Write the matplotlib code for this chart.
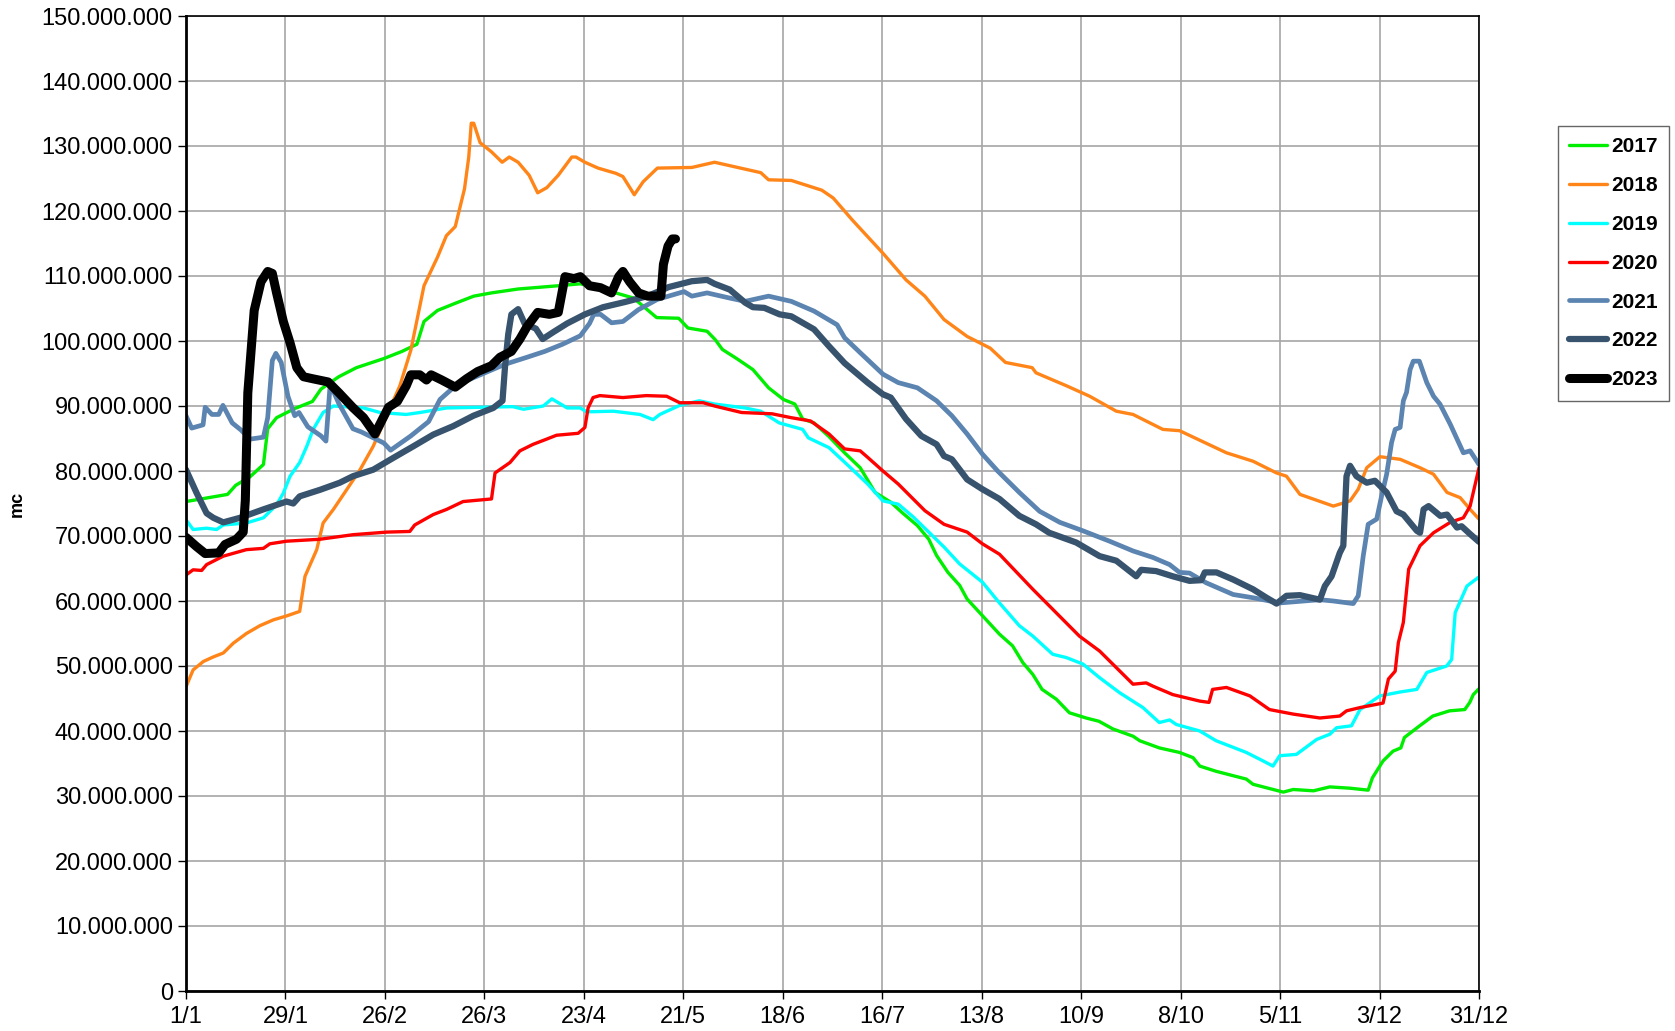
import numpy as np
import matplotlib
matplotlib.use("Agg")
import matplotlib.pyplot as plt
from matplotlib.ticker import FuncFormatter, MultipleLocator

# values: day of year (0 = 1/1) and volume in millions of mc
d2017 = [0, 11.7, 14, 18, 21.8, 23, 25.5, 30.6, 35.6, 38, 43, 48, 55.7, 60.8, 65, 67, 70.8, 75.8, 81, 86,
         93.5, 104.8, 111, 121, 126, 132.5, 138.7, 141.3, 146.7, 149, 151, 155.3, 159.6, 164, 168.2, 171.4,
         173.6, 176.8, 181, 185.4, 189.8, 194, 198.4, 201.6, 205.9, 209.1, 211.3, 214.5, 217.8, 219.9, 229,
         232.7, 235.6, 238.4, 241, 245, 248.7, 253.4, 257, 261, 266.6, 268.5, 274, 279.7, 283.5, 285.4, 290,
         298.5, 300.4, 308.9, 311.7, 317.4, 322, 327.7, 332.8, 334, 337, 339.8, 342, 343, 347.3, 351, 355.7,
         360, 361.4, 362.4, 364]
v2017 = [75.3, 76.4, 77.8, 79.1, 81, 86.5, 88.2, 89.6, 90.7, 92.6, 94.5, 95.9, 97.3, 98.4, 99.5, 103, 104.7,
         105.8, 106.9, 107.4, 108, 108.5, 108.8, 107.4, 106.6, 103.6, 103.5, 102, 101.5, 100.2, 98.7, 97.2, 95.6,
         92.8, 91, 90.3, 88, 87.4, 85.3, 82.8, 80.5, 76.7, 75.2, 73.6, 71.6, 69.5, 67, 64.4, 62.4, 60.3, 54.9,
         53.1, 50.5, 48.7, 46.4, 44.9, 42.8, 42, 41.5, 40.3, 39.2, 38.5, 37.4, 36.7, 35.9, 34.6, 33.8, 32.6, 31.8,
         30.6, 31, 30.8, 31.4, 31.2, 30.9, 32.8, 35.4, 36.9, 37.4, 39, 40.8, 42.3, 43.1, 43.3, 44.4, 45.6, 46.5]

d2018 = [0, 2, 4.9, 7.7, 10.5, 13.3, 17, 20.8, 24.6, 28.3, 32, 33.5, 36.8, 38.6, 41.5, 45.2, 49, 52.7, 56.5,
         60.2, 63.3, 67, 70.8, 73.3, 75.8, 78.4, 79.6, 80.3, 81, 82.8, 86, 89, 91, 93.5, 96.6, 99, 101.6, 104.8,
         108.6, 109.8, 112.3, 116, 121, 123, 126.2, 128.7, 132.7, 142.4, 148.8, 155.3, 161.8, 164, 170.4, 179,
         182.2, 187.6, 196.2, 202.7, 208, 213.4, 219.9, 226.4, 230.7, 238.2, 239.3, 247.9, 254.4, 261.9, 266.6,
         275, 279.7, 292.9, 300.4, 307, 309.8, 313.6, 323, 327.7, 330, 332.4, 336.1, 341.8, 347.4, 351.2, 355,
         358.7, 361.5, 364]
v2018 = [46.8, 49.4, 50.7, 51.4, 52, 53.5, 55, 56.2, 57.1, 57.7, 58.4, 63.8, 67.9, 72, 74.1, 77.1, 80.2, 83.8,
         88.5, 93.1, 98.6, 108.5, 112.9, 116.2, 117.6, 123.4, 128.3, 133.5, 133.5, 130.5, 129.1, 127.5, 128.3,
         127.5, 125.5, 122.8, 123.6, 125.5, 128.3, 128.3, 127.5, 126.6, 125.8, 125.3, 122.5, 124.5, 126.6, 126.7,
         127.5, 126.7, 125.9, 124.8, 124.7, 123.2, 122, 118.6, 113.5, 109.4, 106.9, 103.3, 100.7, 98.9, 96.7, 95.9,
         95.1, 93.1, 91.5, 89.2, 88.7, 86.4, 86.2, 82.8, 81.5, 79.7, 79.2, 76.4, 74.6, 75.4, 77.2, 80.5, 82.2,
         81.8, 80.5, 79.5, 76.7, 75.9, 74.1, 72.6]

d2019 = [0, 2, 5.8, 8.6, 10.5, 17, 21.8, 25.5, 27.4, 29.3, 32, 34, 35.8, 38.6, 41.5, 50, 54.6, 62, 65.9, 73.4,
         92, 95, 100.6, 103, 107.3, 111, 112.8, 120.3, 127.8, 131.5, 133.4, 139, 144.5, 148.8, 157.4, 161.8, 167,
         173.6, 175.2, 181, 186.5, 191.9, 196.2, 200.5, 204.8, 209.1, 213.4, 217.8, 224.2, 229, 234.6, 238.4,
         244, 247.8, 252.5, 257.2, 262.8, 269.4, 274, 276.9, 278.8, 285.4, 290, 298.5, 303.2, 306, 307.9, 312.6,
         318.3, 322, 323.9, 328.1, 330.5, 336.1, 341.8, 346.5, 349.3, 354.9, 356.3, 357.3, 360.6, 364]
v2019 = [72.5, 71, 71.2, 71, 71.7, 72, 72.8, 74.8, 76.6, 79.2, 81.3, 83.8, 86.4, 89, 90, 89.7, 89, 88.7, 89,
         89.7, 89.9, 89.5, 90, 91.1, 89.7, 89.7, 89.1, 89.2, 88.7, 87.9, 88.7, 90.1, 90.8, 90.3, 89.7, 89.2, 87.4,
         86.4, 85.1, 83.6, 80.8, 78, 75.4, 74.9, 72.9, 70.6, 68.3, 65.7, 62.9, 59.7, 56.2, 54.6, 51.8, 51.3, 50.3,
         48.2, 45.9, 43.6, 41.3, 41.7, 41, 40, 38.5, 36.7, 35.4, 34.6, 36.2, 36.4, 38.7, 39.5, 40.5, 40.8, 43.3,
         45.4, 46, 46.4, 49, 50, 51, 58.2, 62.3, 63.7]

d2020 = [0, 2, 4.4, 5.8, 10.5, 17, 21.8, 23.6, 28.3, 37.7, 47, 56.5, 63, 64.4, 69.6, 73.4, 78, 86, 87, 91.2,
         94, 97.7, 101.5, 104.3, 110.4, 112.3, 113.2, 114.6, 116.5, 123, 129.6, 135.3, 139, 145.6, 148.8, 156.4,
         165, 170.4, 175.8, 181, 185.4, 189.8, 191.9, 196.2, 200.5, 208, 213.4, 219.9, 224.2, 229, 238.4, 251.5,
         257.2, 266.6, 270.3, 272.2, 277.8, 285.4, 288, 289, 292.9, 299.5, 305, 311.7, 319.2, 324.8, 326.7,
         330.5, 337, 338.5, 340.4, 341.3, 342.7, 344.2, 347.4, 351.2, 355.9, 359.6, 361.5, 364]
v2020 = [64, 64.8, 64.7, 65.6, 66.9, 67.9, 68.1, 68.8, 69.2, 69.5, 70.2, 70.6, 70.7, 71.7, 73.3, 74.1, 75.3,
         75.7, 79.7, 81.3, 83.1, 84.1, 84.9, 85.5, 85.8, 86.7, 89.7, 91.3, 91.6, 91.3, 91.6, 91.5, 90.5, 90.5, 90,
         89, 88.8, 88.2, 87.7, 85.7, 83.4, 83.1, 82.1, 80, 78, 73.9, 71.8, 70.6, 68.8, 67.2, 61.8, 54.6, 52.3,
         47.2, 47.4, 46.9, 45.6, 44.6, 44.4, 46.4, 46.7, 45.4, 43.3, 42.6, 42, 42.3, 43.1, 43.6, 44.3, 48, 49.2,
         53.6, 56.7, 64.9, 68.5, 70.5, 72.1, 72.8, 74.6, 80.5]

d2021 = [0, 1.6, 4.8, 5.4, 7.3, 9.2, 10.4, 13, 15.5, 18, 21.8, 23, 24.3, 25.3, 26.8, 28.7, 30.6, 31.8, 34.3,
         38, 39.4, 40.6, 43, 47, 49.4, 55.7, 57.6, 63.3, 68.3, 71.5, 75.2, 79, 89.7, 96, 101, 106, 111, 113.6,
         114.8, 116.7, 119.8, 123, 127.3, 132.7, 140.2, 142.4, 146.7, 153.1, 157.4, 164, 170.4, 176.8, 183.3,
         185.4, 189.8, 196.2, 200.5, 205.9, 211.3, 215.6, 219.9, 224.2, 228.5, 234.6, 240.3, 246, 252.5, 260,
         266.6, 272.2, 276.9, 279.7, 282.5, 287.2, 294.8, 300.4, 307.9, 319.2, 323, 328.6, 330, 331.4, 332.8,
         335.2, 336.6, 338, 339.4, 340.4, 341.8, 342.7, 343.6, 344.6, 345.5, 347.2, 349.3, 351.2, 353, 355.9,
         359.6, 361.5, 364]
v2021 = [88.5, 86.6, 87.1, 89.8, 88.7, 88.7, 90.1, 87.4, 86.3, 84.9, 85.2, 88.2, 97, 98.1, 96.7, 91.5, 88.5,
         89, 86.8, 85.4, 84.6, 93.4, 90.4, 86.5, 86, 84.3, 83.2, 85.4, 87.6, 91, 92.8, 93.9, 96.4, 97.5, 98.4,
         99.5, 100.8, 102.7, 104.1, 104.1, 102.8, 103, 104.8, 106.4, 107.6, 106.9, 107.4, 106.6, 106.1, 106.9,
         106.1, 104.6, 102.5, 100.5, 98.2, 94.9, 93.6, 92.8, 90.8, 88.5, 85.7, 82.6, 80, 76.7, 73.8, 72.1, 70.8,
         69.2, 67.7, 66.7, 65.6, 64.4, 64.3, 62.8, 61, 60.5, 59.7, 60.2, 60, 59.6, 60.8, 66.9, 71.8, 72.6, 76.2,
         79.5, 84.4, 86.4, 86.7, 90.8, 92.1, 95.6, 96.9, 96.9, 93.6, 91.5, 90.3, 87.2, 82.8, 83.1, 81]

d2022 = [0, 3, 5.8, 7.7, 10.5, 15.2, 21.8, 28.3, 30.2, 32, 37.7, 43.3, 47, 52.7, 58.3, 64, 69.6, 75.2, 80.9,
         86.5, 89.1, 89.8, 90.7, 91.6, 93.5, 95.3, 98.5, 100.4, 103.5, 107.3, 112.3, 117.4, 123.6, 129.9, 135.9,
         142.4, 146.7, 148.8, 153.1, 157.4, 159.6, 162.8, 167.1, 170.4, 176.8, 181, 185.4, 191.9, 196.2, 198.4,
         202.7, 207, 211.3, 213.4, 215.6, 219.9, 224.2, 229, 234.6, 239.3, 243, 250.6, 257.2, 261.9, 267.5,
         268.9, 273.1, 277.8, 282.5, 285.8, 286.8, 290.1, 294.8, 300.4, 304.2, 307, 309.8, 313.6, 319.2, 320.6,
         322.5, 324.8, 325.8, 326.7, 327.7, 329.5, 332.4, 334.7, 338, 340.8, 342.7, 346.5, 347.4, 348.4, 349.8,
         353.1, 355, 357.8, 359.1, 361.5, 364]
v2022 = [80.2, 76.6, 73.5, 72.8, 72.1, 72.8, 74.1, 75.3, 75, 76.1, 77.1, 78.2, 79.2, 80.2, 82, 83.8, 85.6,
         86.9, 88.5, 89.7, 90.8, 96, 101, 104.1, 104.9, 102.7, 101.9, 100.3, 101.4, 102.7, 104.1, 105.2, 106,
         106.9, 108.3, 109.2, 109.4, 108.8, 107.9, 105.9, 105.2, 105.1, 104.1, 103.8, 101.8, 99.2, 96.6, 93.6,
         91.8, 91.3, 88, 85.4, 84.1, 82.3, 81.8, 78.7, 77.2, 75.7, 73.1, 71.8, 70.5, 69, 66.9, 66.2, 63.8, 64.8,
         64.6, 63.8, 63.1, 63.2, 64.4, 64.4, 63.3, 61.8, 60.5, 59.6, 60.8, 60.9, 60.2, 62.3, 63.8, 67.4, 68.5,
         79.2, 80.8, 79.2, 78.2, 78.5, 76.7, 73.8, 73.3, 70.8, 70.5, 74.1, 74.6, 73.1, 73.3, 71.3, 71.5, 70.3,
         69.1]

d2023 = [0, 2.9, 5.4, 9.2, 11, 14.2, 16.1, 16.7, 17.4, 19.2, 21.1, 23, 24.3, 25.5, 27.4, 29.3, 31.2, 33.1,
         35.6, 40, 43.1, 46.9, 50, 53.2, 57, 59.5, 62, 63.3, 65.8, 67.7, 69, 72, 75.8, 79, 82.1, 86, 88.4, 91.6,
         94, 96, 99, 102.3, 104.8, 106.7, 109.2, 111, 113.6, 116.7, 119.8, 121.8, 123, 124.9, 127.4, 130, 133.7,
         134.4, 135.7, 136.9, 137.8]
v2023 = [69.8, 68.4, 67.3, 67.4, 68.7, 69.5, 70.6, 75.5, 92, 104.7, 109.1, 110.7, 110.4, 107.4, 103, 99.7,
         95.9, 94.5, 94.2, 93.7, 92, 89.8, 88.2, 85.7, 89.8, 90.7, 93.1, 94.8, 94.8, 94, 94.8, 94, 92.9, 94.2,
         95.3, 96.2, 97.5, 98.4, 100.3, 102.2, 104.4, 104.1, 104.4, 109.9, 109.6, 109.9, 108.5, 108.2, 107.4,
         109.9, 110.7, 109.1, 107.4, 106.9, 106.9, 111.8, 114.6, 115.7, 115.7]

years = ["2017", "2018", "2019", "2020", "2021", "2022", "2023"]
tick_labels = ["1/1", "29/1", "26/2", "26/3", "23/4", "21/5", "18/6", "16/7", "13/8", "10/9", "8/10",
               "5/11", "3/12", "31/12"]

series = [(d2017, v2017, "#00ee00", 2.4), (d2018, v2018, "#ff8519", 2.4), (d2019, v2019, "#00ffff", 2.4),
          (d2020, v2020, "#ff0000", 2.4), (d2021, v2021, "#5b84b1", 3.4), (d2022, v2022, "#37536d", 4.5),
          (d2023, v2023, "#000000", 6.5)]

plt.rcParams['font.family'] = ['Liberation Sans', 'DejaVu Sans']

fig = plt.figure(figsize=(16.75, 10.31), dpi=100)
ax = fig.add_axes([186 / 1675, 40 / 1031, 1293 / 1675, 975 / 1031])

for (d, v, col, lw), yr in zip(series, years):
    ax.plot(d, np.array(v) * 1e6, color=col, lw=lw, label=yr,
            solid_capstyle="round", solid_joinstyle="round")

ax.set_xlim(0, 364)
ax.set_ylim(0, 150e6)
ax.set_xticks(np.arange(0, 365, 28))
ax.set_xticklabels(tick_labels)
ax.yaxis.set_major_locator(MultipleLocator(10e6))
ax.yaxis.set_major_formatter(FuncFormatter(lambda v, p: f"{int(round(v)):,}".replace(",", ".")))
ax.tick_params(axis="both", labelsize=17, length=6, width=1, direction="out")
ax.tick_params(axis="x", pad=5)
ax.grid(True, color="#a6a6a6", lw=1.2)
ax.set_axisbelow(True)
for s in ["left", "bottom"]:
    ax.spines[s].set_linewidth(2)
for s in ["top", "right"]:
    ax.spines[s].set_linewidth(1.2)

ax.set_ylabel("mc", fontsize=13, fontweight="bold")
ax.yaxis.set_label_coords(-0.124, 0.5)

leg = ax.legend(loc="upper left", bbox_to_anchor=(1558 / 1675, 1 - 126 / 1031), bbox_transform=fig.transFigure,
                borderaxespad=0, fancybox=False, edgecolor="#404040", handlelength=1.8, handletextpad=0.2,
                labelspacing=0.95, borderpad=0.55, prop={"weight": "bold", "size": 15})
leg.get_frame().set_linewidth(1)

fig.savefig("out.png", dpi=100)
